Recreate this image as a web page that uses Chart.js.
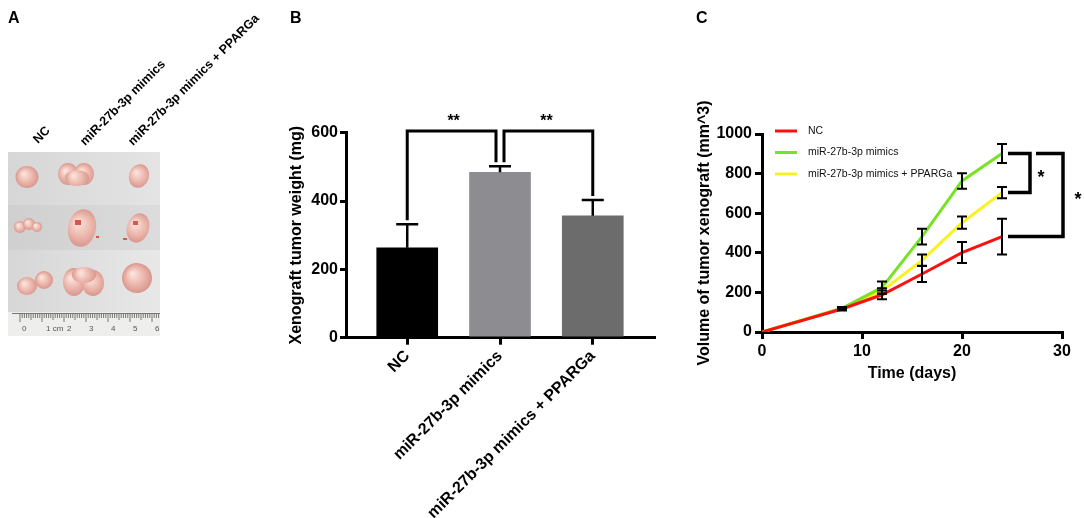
<!DOCTYPE html>
<html><head><meta charset="utf-8">
<script src="https://cdn.jsdelivr.net/npm/chart.js@4.4.1/dist/chart.umd.min.js"></script>
<style>
html,body{margin:0;padding:0;background:#fff;width:1084px;height:518px;overflow:hidden;font-family:'Liberation Sans',Arial,sans-serif;}
.plabel{position:absolute;font-weight:bold;font-size:16px;line-height:16px;color:#000;}
.rot{position:absolute;font-weight:bold;font-size:12.5px;line-height:13px;white-space:nowrap;transform-origin:0 100%;transform:rotate(-45deg);color:#000;}
</style></head>
<body>
<canvas id="photo" width="170" height="345" style="position:absolute;left:0;top:0"></canvas>
<div class="plabel" style="left:8px;top:10px">A</div>
<div class="plabel" style="left:290px;top:10px">B</div>
<div class="plabel" style="left:696px;top:10px">C</div>
<div class="rot" style="left:40px;top:133px">NC</div>
<div class="rot" style="left:87px;top:135px">miR-27b-3p mimics</div>
<div class="rot" style="left:135px;top:135px">miR-27b-3p mimics + PPARGa</div>
<div id="wrapB" style="position:absolute;left:250px;top:0;width:420px;height:518px"><canvas id="chartB"></canvas></div>
<div id="wrapC" style="position:absolute;left:690px;top:0;width:394px;height:518px"><canvas id="chartC"></canvas></div>
<script>
// ---------- Panel B data ----------
const categories = ['NC', 'miR-27b-3p mimics', 'miR-27b-3p mimics + PPARGa'];
const weightMean = [263, 484, 357];
const weightErr = [69, 18, 46];
const barColors = ['#000000', '#8d8d91', '#6c6c6c'];
const sigPairsB = [[0, 1, '**'], [1, 2, '**']];
const sigLevelB = 605;

// ---------- Panel C data ----------
const days = [0, 8, 12, 16, 20, 24];
const seriesNames = ['NC', 'miR-27b-3p mimics', 'miR-27b-3p mimics + PPARGa'];
const volNC = [0, 116, 188, 293, 401, 482];
const volNCErr = [0, 8, 22, 41, 53, 90];
const volMimics = [0, 120, 225, 482, 763, 902];
const volMimicsErr = [0, 6, 30, 40, 39, 48];
const volPPARG = [0, 118, 207, 362, 552, 704];
const volPPARGErr = [0, 6, 14, 29, 31, 28];
const lineColors = ['#ff1010', '#78e225', '#f8f21e'];
const sigPairsC = [[1, 2, '*'], [1, 0, '*']];

Chart.defaults.font.family = "'Liberation Sans', Arial, sans-serif";
Chart.defaults.color = '#000';

// ---------- Panel A: photo stand-in ----------
(function () {
  const g = document.getElementById('photo').getContext('2d');
  const strips = [[152, 205, '#d6d6d6', '#e4e4e4'], [205, 250, '#cfcfcf', '#dcdcdc'], [250, 312, '#d6d6d6', '#e8e8e8']];
  strips.forEach(s => {
    const gr = g.createLinearGradient(8, 0, 160, 0);
    gr.addColorStop(0, s[2]); gr.addColorStop(1, s[3]);
    g.fillStyle = gr; g.fillRect(8, s[0], 152, s[1] - s[0]);
  });
  function blob(parts) {
    parts.forEach(p => {
      const gr = g.createRadialGradient(p[0] - p[2] * 0.3, p[1] - p[3] * 0.3, 1, p[0], p[1], Math.max(p[2], p[3]));
      gr.addColorStop(0, '#fbe2da'); gr.addColorStop(0.55, '#ecb8ae'); gr.addColorStop(1, '#d9968d');
      g.fillStyle = gr; g.beginPath(); g.ellipse(p[0], p[1], p[2], p[3], p[4] || 0, 0, Math.PI * 2); g.fill();
    });
  }
  blob([[27, 177, 11.5, 11]]);
  blob([[68, 174, 10, 11], [84, 174, 10, 11], [77, 178, 12, 8]]);
  blob([[139, 176, 10, 12, 0.3]]);
  blob([[20, 227, 6, 6], [29, 224, 6, 6], [37, 227, 5, 5]]);
  blob([[82, 228, 14, 19, 0.2]]);
  g.fillStyle = '#d9544a'; g.fillRect(75, 220, 6, 5); g.fillRect(96, 236, 3, 2);
  blob([[138, 228, 11, 15, 0.3]]);
  g.fillStyle = '#d45a50'; g.fillRect(133, 221, 5, 4); g.fillRect(123, 238, 4, 2);
  blob([[27, 286, 10, 9], [44, 280, 9, 9]]);
  blob([[74, 282, 11, 14], [93, 283, 11, 13], [84, 275, 12, 8]]);
  blob([[137, 278, 15, 15, -0.2]]);
  // ruler
  g.fillStyle = '#eeeeec'; g.fillRect(8, 312, 152, 24);
  g.strokeStyle = '#777'; g.lineWidth = 1;
  g.beginPath(); g.moveTo(12, 313.5); g.lineTo(160, 313.5); g.stroke();
  for (let i = 0; i <= 66; i++) {
    const x = 20 + i * 2.2;
    if (x > 160) break;
    g.beginPath(); g.moveTo(x, 314); g.lineTo(x, i % 10 === 0 ? 322 : (i % 5 === 0 ? 320 : 318)); g.stroke();
  }
  g.fillStyle = '#555'; g.font = '8px "Liberation Sans", Arial';
  [['0', 22], ['1 cm', 46], ['2', 67], ['3', 89], ['4', 111], ['5', 133], ['6', 155]].forEach(t => g.fillText(t[0], t[1], 331));
})();

// ---------- Panel B chart ----------
const errorBarsB = {
  id: 'errB',
  afterDatasetsDraw(chart) {
    const meta = chart.getDatasetMeta(0), ys = chart.scales.y, ctx = chart.ctx;
    ctx.save(); ctx.strokeStyle = '#000'; ctx.lineWidth = 2.5;
    meta.data.forEach((el, i) => {
      const top = ys.getPixelForValue(weightMean[i] + weightErr[i]);
      ctx.beginPath(); ctx.moveTo(el.x, el.y); ctx.lineTo(el.x, top);
      ctx.moveTo(el.x - 11, top); ctx.lineTo(el.x + 11, top); ctx.stroke();
    });
    ctx.restore();
  }
};
const sigB = {
  id: 'sigB',
  afterDraw(chart) {
    const meta = chart.getDatasetMeta(0), ys = chart.scales.y, ctx = chart.ctx;
    const uses = categories.map((c, i) => sigPairsB.filter(p => p[0] === i || p[1] === i).length);
    const topY = ys.getPixelForValue(sigLevelB);
    ctx.save(); ctx.strokeStyle = '#000'; ctx.lineWidth = 3; ctx.lineJoin = 'miter';
    sigPairsB.forEach(p => {
      const [a, b, lab] = p;
      const xa = meta.data[a].x + (uses[a] > 1 ? 4 : 0);
      const xb = meta.data[b].x - (uses[b] > 1 ? 4 : 0);
      const ya = ys.getPixelForValue(weightMean[a] + weightErr[a]) - 4;
      const yb = ys.getPixelForValue(weightMean[b] + weightErr[b]) - 4;
      ctx.beginPath(); ctx.moveTo(xa, ya); ctx.lineTo(xa, topY); ctx.lineTo(xb, topY); ctx.lineTo(xb, yb); ctx.stroke();
      ctx.fillStyle = '#000'; ctx.font = 'bold 16px "Liberation Sans", Arial'; ctx.textAlign = 'center'; ctx.textBaseline = 'alphabetic';
      ctx.fillText(lab, (meta.data[a].x + meta.data[b].x) / 2, topY - 5);
    });
    ctx.restore();
  }
};
new Chart(document.getElementById('chartB'), {
  type: 'bar',
  data: { datasets: [{ data: categories.map((c, i) => ({ x: i, y: weightMean[i] })), backgroundColor: barColors, borderWidth: 0, barThickness: 61 }] },
  options: {
    responsive: true, maintainAspectRatio: false, animation: false,
    layout: { padding: { left: 0, right: 16, top: 132.7, bottom: 0 } },
    plugins: { legend: { display: false }, tooltip: { enabled: false } },
    scales: {
      x: {
        type: 'linear', min: -0.66, max: 2.66, offset: false,
        afterBuildTicks: s => { s.ticks = categories.map((c, i) => ({ value: i })); },
        afterFit: s => { s.height = 180.3; s.paddingLeft = 0; s.paddingRight = 0; },
        ticks: { callback: v => categories[v], minRotation: 45, maxRotation: 45, autoSkip: false, font: { size: 16, weight: 'bold' }, color: '#000', padding: 2 },
        grid: { display: true, offset: false, drawOnChartArea: false, drawTicks: true, tickLength: 7, color: '#000', lineWidth: 3 },
        border: { display: true, color: '#000', width: 3 }
      },
      y: {
        min: 0, max: 600,
        ticks: { stepSize: 200, callback: v => String(v), font: { size: 16, weight: 'bold' }, color: '#000', padding: 2 },
        afterFit: s => { s.width = 96; s.paddingTop = 0; s.paddingBottom = 0; },
        title: { display: true, text: 'Xenograft tumor weight (mg)', font: { size: 16, weight: 'bold' }, color: '#000', padding: { top: 37, bottom: 0 } },
        grid: { drawOnChartArea: false, tickLength: 6, color: '#000', lineWidth: 3 },
        border: { color: '#000', width: 3 }
      }
    }
  },
  plugins: [errorBarsB, sigB]
});

// ---------- Panel C chart ----------
const volMeans = [volNC, volMimics, volPPARG];
const volErrs = [volNCErr, volMimicsErr, volPPARGErr];
const extrasC = {
  id: 'extrasC',
  afterDatasetsDraw(chart) {
    const xs = chart.scales.x, ys = chart.scales.y, ctx = chart.ctx;
    ctx.save(); ctx.strokeStyle = '#000'; ctx.lineWidth = 2;
    volMeans.forEach((vals, k) => {
      vals.forEach((v, i) => {
        const e = volErrs[k][i]; if (!e) return;
        const x = xs.getPixelForValue(days[i]);
        const y1 = ys.getPixelForValue(v + e), y2 = ys.getPixelForValue(v - e);
        ctx.beginPath(); ctx.moveTo(x, y1); ctx.lineTo(x, y2);
        ctx.moveTo(x - 5, y1); ctx.lineTo(x + 5, y1); ctx.moveTo(x - 5, y2); ctx.lineTo(x + 5, y2); ctx.stroke();
      });
    });
    ctx.restore();
  },
  afterDraw(chart) {
    const xs = chart.scales.x, ys = chart.scales.y, ctx = chart.ctx, ca = chart.chartArea;
    // legend
    ctx.save();
    seriesNames.forEach((n, k) => {
      const y = ca.top - 3 + k * 21.5;
      ctx.strokeStyle = lineColors[k]; ctx.lineWidth = 3;
      ctx.beginPath(); ctx.moveTo(ca.left + 13, y); ctx.lineTo(ca.left + 35, y); ctx.stroke();
      ctx.fillStyle = '#111'; ctx.font = '10.5px "Liberation Sans", Arial'; ctx.textAlign = 'left'; ctx.textBaseline = 'middle';
      ctx.fillText(n, ca.left + 46, y);
    });
    // significance brackets at last time point
    const last = days.length - 1;
    const xl = xs.getPixelForValue(days[last]);
    ctx.strokeStyle = '#000'; ctx.lineWidth = 3.5; ctx.fillStyle = '#000';
    ctx.font = 'bold 18px "Liberation Sans", Arial'; ctx.textAlign = 'center'; ctx.textBaseline = 'alphabetic';
    sigPairsC.forEach((p, j) => {
      const [a, b, lab] = p;
      const ya = ys.getPixelForValue(volMeans[a][last]);
      const yb = ys.getPixelForValue(volMeans[b][last]);
      const vx = xl + (j === 0 ? 28 : 61);
      const startA = xl + (j === 0 ? 6 : 34);
      ctx.beginPath(); ctx.moveTo(startA, ya); ctx.lineTo(vx, ya); ctx.lineTo(vx, yb); ctx.lineTo(xl + 6, yb); ctx.stroke();
      ctx.fillText(lab, vx + (j === 0 ? 11 : 15), (ya + yb) / 2 + 10);
    });
    ctx.restore();
  }
};
new Chart(document.getElementById('chartC'), {
  type: 'line',
  data: {
    datasets: volMeans.map((vals, k) => ({
      label: seriesNames[k], data: days.map((d, i) => ({ x: d, y: vals[i] })),
      borderColor: lineColors[k], borderWidth: 3, pointRadius: 0, fill: false, tension: 0
    }))
  },
  options: {
    responsive: true, maintainAspectRatio: false, animation: false,
    layout: { padding: { left: 0, right: 22, top: 134, bottom: 130 } },
    plugins: { legend: { display: false }, tooltip: { enabled: false } },
    scales: {
      x: {
        type: 'linear', min: 0, max: 30,
        ticks: { stepSize: 10, callback: v => String(v), font: { size: 16, weight: 'bold' }, color: '#000', padding: 3 },
        afterFit: s => { s.height = 56; s.paddingLeft = 0; s.paddingRight = 0; },
        title: { display: true, text: 'Time (days)', font: { size: 16, weight: 'bold' }, color: '#000', padding: { top: 0, bottom: 5 } },
        grid: { drawOnChartArea: false, tickLength: 7, color: '#000', lineWidth: 3 },
        border: { color: '#000', width: 3 }
      },
      y: {
        min: 0, max: 1000,
        ticks: { stepSize: 200, callback: v => String(v), font: { size: 16, weight: 'bold' }, color: '#000', padding: 3 },
        afterFit: s => { s.width = 72; s.paddingTop = 0; s.paddingBottom = 0; },
        title: { display: true, text: 'Volume of tumor xenograft (mm^3)', font: { size: 16, weight: 'bold' }, color: '#000', padding: { top: 5, bottom: 0 } },
        grid: { drawOnChartArea: false, tickLength: 7, color: '#000', lineWidth: 3 },
        border: { color: '#000', width: 3 }
      }
    }
  },
  plugins: [extrasC]
});
</script>
</body></html>
